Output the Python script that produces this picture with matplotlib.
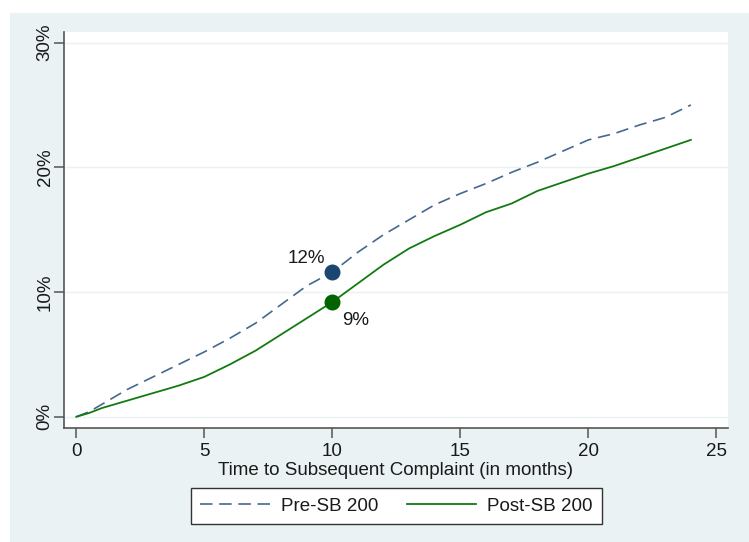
import matplotlib
matplotlib.use("Agg")
import matplotlib.pyplot as plt
import matplotlib.patches as mpatches
from matplotlib.ticker import FuncFormatter

# ─────────────────────────────────────────────
#  DATA  (cumulative share with a subsequent complaint, %)
# ─────────────────────────────────────────────
months = [0, 0.5, 1, 2, 3, 4, 5, 6, 7, 8, 9, 10, 11, 12,
          13, 14, 15, 16, 17, 18, 19, 20, 21, 22, 23, 24]
pre_sb200 = [0, 0.4, 1.0, 2.2, 3.2, 4.2, 5.2, 6.3, 7.5, 9.0, 10.5, 11.6, 13.2, 14.6,
             15.8, 17.0, 17.9, 18.7, 19.6, 20.4, 21.3, 22.2, 22.7, 23.4, 24.0, 25.0]
post_sb200 = [0, 0.3, 0.7, 1.3, 1.9, 2.5, 3.2, 4.2, 5.3, 6.6, 7.9, 9.2, 10.7, 12.2,
              13.5, 14.5, 15.4, 16.4, 17.1, 18.1, 18.8, 19.5, 20.1, 20.8, 21.5, 22.2]
highlight_month = 10
pre_at_10 = 11.6
post_at_10 = 9.2
series_labels = ["Pre-SB 200", "Post-SB 200"]
x_ticks = [0, 5, 10, 15, 20, 25]
y_ticks = [0, 10, 20, 30]

# ─────────────────────────────────────────────
#  STYLE
# ─────────────────────────────────────────────
PANEL = "#EAF2F3"
PRE_LINE = "#46688F"
PRE_DOT = "#1A476F"
POST_LINE = "#137A13"
POST_DOT = "#006400"
TEXT = "#1A1A1A"
AXIS = "#555555"

plt.rcParams["font.family"] = ["Liberation Sans", "DejaVu Sans"]

W, H = 749, 542
fig = plt.figure(figsize=(W / 100, H / 100), dpi=100)
fig.patch.set_facecolor("white")

# light panel behind the graph (Stata style)
fig.patches.append(mpatches.Rectangle((10 / W, 0), 1 - 10 / W, 1 - 13 / H,
                                      transform=fig.transFigure,
                                      facecolor=PANEL, edgecolor="none", zorder=-5))

ax = fig.add_axes([64 / W, 1 - 428 / H, (728 - 64) / W, (428 - 32) / H])
ax.set_facecolor("white")

ax.plot(months, pre_sb200, color=PRE_LINE, lw=1.2, dashes=(7.5, 4),
        label=series_labels[0], zorder=3)
ax.plot(months, post_sb200, color=POST_LINE, lw=1.3,
        label=series_labels[1], zorder=3)

ax.plot([highlight_month], [pre_at_10], "o", color=PRE_DOT, ms=10.5, zorder=4)
ax.plot([highlight_month], [post_at_10], "o", color=POST_DOT, ms=10.5, zorder=4)
ax.annotate(f"{pre_at_10:.0f}%", (highlight_month, pre_at_10),
            xytext=(-19, 10), textcoords="offset points",
            ha="center", va="center", fontsize=13.5, color=TEXT)
ax.annotate(f"{post_at_10:.0f}%", (highlight_month, post_at_10),
            xytext=(16.5, -13), textcoords="offset points",
            ha="center", va="center", fontsize=13.5, color=TEXT)

ax.set_xlim(-0.48, 25.45)
ax.set_ylim(-0.9, 30.85)
ax.set_xticks(x_ticks)
ax.set_yticks(y_ticks)
ax.yaxis.set_major_formatter(FuncFormatter(lambda v, _: f"{v:.0f}%"))
ax.grid(axis="y", color=PANEL, lw=1.0)
ax.set_axisbelow(True)

for side in ["top", "right"]:
    ax.spines[side].set_visible(False)
for side in ["left", "bottom"]:
    ax.spines[side].set_color(AXIS)
    ax.spines[side].set_linewidth(1.2)

ax.tick_params(axis="both", direction="out", length=7, width=1.1,
               color=AXIS, labelsize=13.5, labelcolor=TEXT)
ax.tick_params(axis="x", pad=4)
ax.tick_params(axis="y", pad=0.5)
for lbl in ax.get_yticklabels():
    lbl.set_rotation(90)
    lbl.set_va("center")

ax.set_xlabel("Time to Subsequent Complaint (in months)", fontsize=13.5,
              color=TEXT, labelpad=1)

leg = fig.legend(loc="center", bbox_to_anchor=(396.5 / W, 1 - 506 / H),
                 ncol=2, fontsize=13.5, frameon=True, fancybox=False,
                 handlelength=3.7, handletextpad=0.6, columnspacing=1.5,
                 borderpad=0.5, framealpha=1)
leg.get_frame().set_facecolor("white")
leg.get_frame().set_edgecolor("#333333")
leg.get_frame().set_linewidth(1.0)
for t in leg.get_texts():
    t.set_color(TEXT)

fig.savefig("out.png", dpi=100, facecolor="white")
